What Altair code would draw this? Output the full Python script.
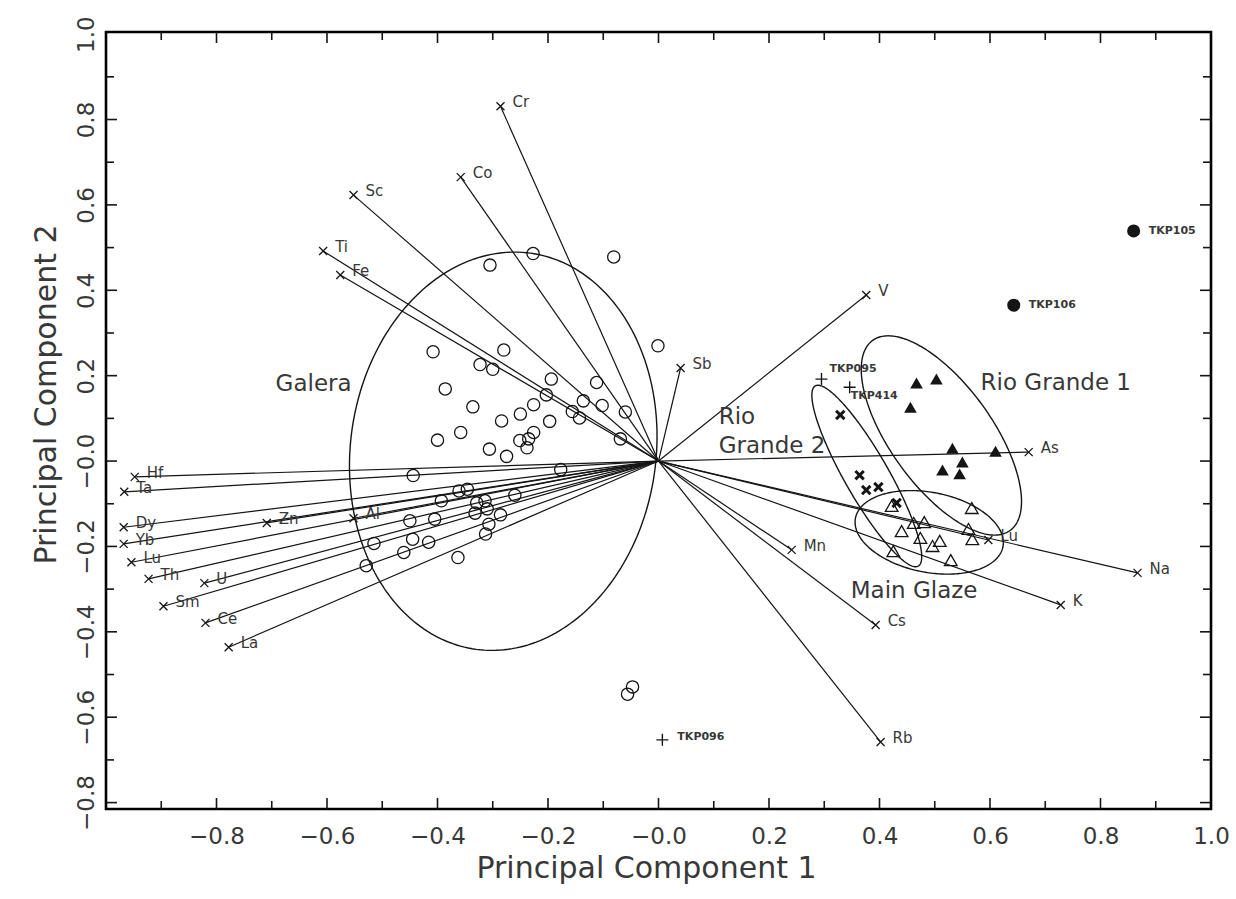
import altair as alt
import pandas as pd
import numpy as np

# ---------------- data ----------------
# element loadings (vectors from the origin)
load_names = ["Cr", "Co", "Sc", "Ti", "Fe", "V", "Sb", "As", "Lu", "Na", "K", "Mn", "Cs", "Rb",
              "Hf", "Ta", "Dy", "Yb", "Lu", "Th", "U", "Sm", "Ce", "La", "Zn", "Al"]
load_x = [-0.286, -0.358, -0.552, -0.607, -0.576, 0.376, 0.040, 0.670, 0.597, 0.867, 0.728, 0.241, 0.393, 0.402,
          -0.948, -0.967, -0.968, -0.968, -0.954, -0.923, -0.822, -0.896, -0.820, -0.778, -0.709, -0.552]
load_y = [0.831, 0.665, 0.623, 0.492, 0.436, 0.389, 0.218, 0.021, -0.185, -0.262, -0.337, -0.208, -0.384, -0.658,
          -0.037, -0.072, -0.155, -0.194, -0.237, -0.276, -0.286, -0.340, -0.379, -0.436, -0.145, -0.134]

# Galera samples (open circles)
galera_x = [-0.305, -0.227, -0.081, -0.001, -0.408, -0.280, -0.323, -0.300, -0.386, -0.194,
            -0.112, -0.203, -0.136, -0.102, -0.060, -0.156, -0.143, -0.336, -0.226, -0.250,
            -0.284, -0.197, -0.358, -0.400, -0.226, -0.251, -0.235, -0.238, -0.306, -0.275,
            -0.069, -0.177, -0.444, -0.361, -0.346, -0.393, -0.260, -0.329, -0.314, -0.310,
            -0.332, -0.286, -0.450, -0.405, -0.307, -0.445, -0.416, -0.515, -0.313, -0.461,
            -0.363, -0.529, -0.047, -0.056]
galera_y = [0.459, 0.486, 0.478, 0.270, 0.256, 0.260, 0.226, 0.215, 0.169, 0.192,
            0.184, 0.155, 0.141, 0.130, 0.115, 0.116, 0.101, 0.127, 0.132, 0.110,
            0.094, 0.093, 0.067, 0.049, 0.067, 0.048, 0.052, 0.031, 0.028, 0.011,
            0.052, -0.020, -0.034, -0.070, -0.066, -0.093, -0.080, -0.098, -0.093, -0.112,
            -0.122, -0.126, -0.140, -0.136, -0.148, -0.183, -0.190, -0.193, -0.171, -0.214,
            -0.226, -0.245, -0.529, -0.546]

# Rio Grande 1 (filled triangles)
rg1_x = [0.467, 0.503, 0.456, 0.532, 0.610, 0.550, 0.514, 0.545]
rg1_y = [0.183, 0.192, 0.126, 0.030, 0.023, -0.002, -0.021, -0.030]

# Main Glaze (open triangles)
mg_x = [0.422, 0.567, 0.462, 0.481, 0.440, 0.561, 0.474, 0.509, 0.568, 0.496, 0.425, 0.529]
mg_y = [-0.105, -0.110, -0.145, -0.143, -0.164, -0.159, -0.180, -0.187, -0.183, -0.199, -0.211, -0.232]

# Rio Grande 2 (bold crosses)
rg2_x = [0.329, 0.364, 0.376, 0.398, 0.431]
rg2_y = [0.108, -0.033, -0.068, -0.061, -0.098]

# individually labelled samples
plus_names = ["TKP095", "TKP414", "TKP096"]
plus_x = [0.295, 0.346, 0.007]
plus_y = [0.192, 0.173, -0.653]

dot_names = ["TKP105", "TKP106"]
dot_x = [0.860, 0.643]
dot_y = [0.539, 0.365]

# group ellipses: centre and two semi-axis vectors (data units)
ell_names = ["Galera", "Rio Grande 1", "Rio Grande 2", "Main Glaze"]
ell_cx = [-0.281, 0.512, 0.377, 0.490]
ell_cy = [0.023, 0.060, -0.035, -0.167]
ell_ux = [0.049, 0.125, 0.0932, 0.134]
ell_uy = [0.464, -0.222, -0.211, -0.019]
ell_vx = [0.274, 0.0736, 0.0346, -0.007]
ell_vy = [-0.048, 0.072, 0.0256, 0.096]

# group names
grp_text = ["Galera", "Rio", "Grande 2", "Rio Grande 1", "Main Glaze"]
grp_x = [-0.693, 0.109, 0.109, 0.583, 0.348]
grp_y = [0.180, 0.103, 0.036, 0.183, -0.304]

# axis ticks / labels
x_label_vals = [-0.8, -0.6, -0.4, -0.2, 0.0, 0.2, 0.4, 0.6, 0.8, 1.0]
y_label_vals = [-0.8, -0.6, -0.4, -0.2, 0.0, 0.2, 0.4, 0.6, 0.8, 1.0]
x_major = [-0.8, -0.6, -0.4, -0.2, 0.0, 0.2, 0.4, 0.6, 0.8]
x_minor = [-0.9, -0.7, -0.5, -0.3, -0.1, 0.1, 0.3, 0.5, 0.7, 0.9]
y_major = [-0.8, -0.6, -0.4, -0.2, 0.0, 0.2, 0.4, 0.6, 0.8]
y_minor = [-0.7, -0.5, -0.3, -0.1, 0.1, 0.3, 0.5, 0.7, 0.9]

# ---------------- chart ----------------
W, H = 1105, 777
FONT = "DejaVu Sans"
INK = "#151515"
TXT = "#383838"

loads = pd.DataFrame({"x": load_x, "y": load_y, "name": load_names})
galera = pd.DataFrame({"x": galera_x, "y": galera_y})
rg1 = pd.DataFrame({"x": rg1_x, "y": rg1_y})
mg = pd.DataFrame({"x": mg_x, "y": mg_y})
rg2 = pd.DataFrame({"x": rg2_x, "y": rg2_y})
plus = pd.DataFrame({"x": plus_x, "y": plus_y, "name": plus_names})
dots = pd.DataFrame({"x": dot_x, "y": dot_y, "name": dot_names})
grp = pd.DataFrame({"x": grp_x, "y": grp_y, "text": grp_text})

frames = []
t = np.linspace(0, 2 * np.pi, 241)
for i, nm in enumerate(ell_names):
    frames.append(pd.DataFrame({
        "x": ell_cx[i] + ell_ux[i] * np.cos(t) + ell_vx[i] * np.sin(t),
        "y": ell_cy[i] + ell_uy[i] * np.cos(t) + ell_vy[i] * np.sin(t),
        "order": np.arange(len(t)),
        "group": nm,
    }))
ells = pd.concat(frames, ignore_index=True)

xs = alt.Scale(domain=[-1.0, 1.0], nice=False, zero=False)
ys = alt.Scale(domain=[-0.815, 1.005], nice=False, zero=False)

LABEL_EXPR = "datum.value == 0 ? '\u22120.0' : format(datum.value, '.1f')"

xaxis = alt.Axis(
    values=x_label_vals, labelExpr=LABEL_EXPR,
    ticks=False, domain=False, grid=False,
    labelFont=FONT, labelFontSize=23, labelColor=TXT,
    labelPadding=34, labelBaseline="alphabetic", labelFlush=False, labelOverlap=False,
    title="Principal Component 1", titleFont=FONT, titleFontSize=30,
    titleFontWeight="normal", titleColor=TXT,
    titleX=540, titleY=68, titleBaseline="alphabetic", titleAlign="center",
)
yaxis = alt.Axis(
    values=y_label_vals, labelExpr=LABEL_EXPR,
    ticks=False, domain=False, grid=False,
    labelFont=FONT, labelFontSize=23, labelColor=TXT,
    labelAngle=270, labelAlign="center", labelBaseline="alphabetic",
    labelPadding=13, labelFlush=False, labelOverlap=False,
    title="Principal Component 2", titleFont=FONT, titleFontSize=30,
    titleFontWeight="normal", titleColor=TXT, titleAngle=270,
    titleX=-51, titleY=362, titleBaseline="alphabetic", titleAlign="center",
)

X = alt.X("x:Q", scale=xs, axis=xaxis)
Y = alt.Y("y:Q", scale=ys, axis=yaxis)

layers = []

# loading vectors
layers.append(alt.Chart(loads).mark_rule(color=INK, strokeWidth=1.2).encode(
    x=X, y=Y, x2=alt.datum(0), y2=alt.datum(0)))

# ellipses
layers.append(alt.Chart(ells).mark_line(color=INK, strokeWidth=1.4).encode(
    x=X, y=Y, order="order:Q", detail="group:N"))

# inward ticks
def xticks(vals, length):
    d = pd.DataFrame({"x": vals})
    b = alt.Chart(d).mark_rule(color=INK, strokeWidth=1.6).encode(
        x=X, y=alt.value(H), y2=alt.value(H - length))
    t_ = alt.Chart(d).mark_rule(color=INK, strokeWidth=1.6).encode(
        x=X, y=alt.value(0), y2=alt.value(length))
    return [b, t_]

def yticks(vals, length):
    d = pd.DataFrame({"y": vals})
    l = alt.Chart(d).mark_rule(color=INK, strokeWidth=1.6).encode(
        y=Y, x=alt.value(0), x2=alt.value(length))
    r = alt.Chart(d).mark_rule(color=INK, strokeWidth=1.6).encode(
        y=Y, x=alt.value(W), x2=alt.value(W - length))
    return [l, r]

layers += xticks(x_major, 11) + xticks(x_minor, 8) + yticks(y_major, 11) + yticks(y_minor, 8)

XPATH = "M-1,-1L1,1M-1,1L1,-1"
PPATH = "M-1,0L1,0M0,-1L0,1"

# loading markers
layers.append(alt.Chart(loads).mark_point(shape=XPATH, filled=False, size=64,
                                          strokeWidth=1.3, color=INK, opacity=1).encode(x=X, y=Y))
# samples
layers.append(alt.Chart(galera).mark_point(shape="circle", filled=False, size=150,
                                           strokeWidth=1.3, color=INK, opacity=1).encode(x=X, y=Y))
layers.append(alt.Chart(rg1).mark_point(shape="triangle-up", filled=True, size=160,
                                        color=INK, opacity=1).encode(x=X, y=Y))
layers.append(alt.Chart(mg).mark_point(shape="triangle-up", filled=False, size=160,
                                       strokeWidth=1.3, color=INK, opacity=1).encode(x=X, y=Y))
layers.append(alt.Chart(rg2).mark_point(shape=XPATH, filled=False, size=70,
                                        strokeWidth=3, color=INK, opacity=1).encode(x=X, y=Y))
layers.append(alt.Chart(plus).mark_point(shape=PPATH, filled=False, size=144,
                                         strokeWidth=1.4, color=INK, opacity=1).encode(x=X, y=Y))
layers.append(alt.Chart(dots).mark_point(shape="circle", filled=True, size=170,
                                         color=INK, opacity=1).encode(x=X, y=Y))

# loading labels
layers.append(alt.Chart(loads).mark_text(align="left", baseline="middle", dx=12, dy=-4,
                                         font=FONT, fontSize=15, color=TXT).encode(
    x=X, y=Y, text="name:N"))

# sample labels
def sample_label(df, dx, dy):
    return alt.Chart(df).mark_text(align="left", baseline="middle", dx=dx, dy=dy,
                                   font=FONT, fontSize=11, fontWeight="bold", color=TXT).encode(
        x=X, y=Y, text="name:N")

layers.append(sample_label(dots, 15, 0))
layers.append(sample_label(plus[plus["name"] == "TKP095"], 8, -10))
layers.append(sample_label(plus[plus["name"] == "TKP414"], 1, 9))
layers.append(sample_label(plus[plus["name"] == "TKP096"], 15, -3))

# group names
layers.append(alt.Chart(grp).mark_text(align="left", baseline="middle",
                                       font=FONT, fontSize=23, color=TXT).encode(
    x=X, y=Y, text="text:N"))

chart = alt.layer(*layers).properties(
    width=W, height=H,
    autosize=alt.AutoSizeParams(type="none"),
    padding={"left": 106, "top": 32, "right": 25, "bottom": 90},
    background="white",
).configure_view(stroke="black", strokeWidth=2.6)

chart.save("out.html", embed_options={"renderer": "svg", "actions": False})
